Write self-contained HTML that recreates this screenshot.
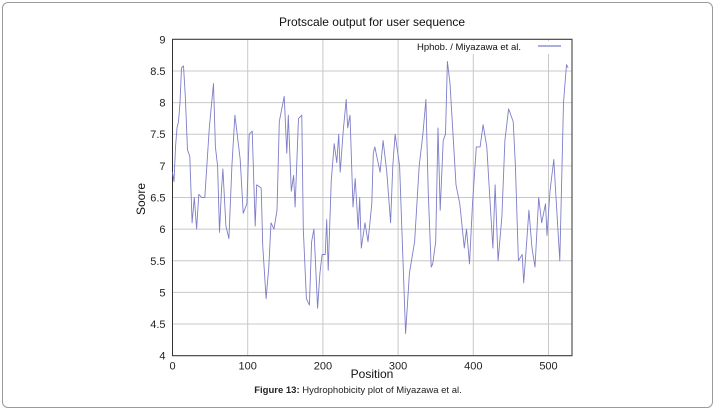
<!DOCTYPE html>
<html><head><meta charset="utf-8"><style>
html,body{margin:0;padding:0;background:#fff;}
body{width:716px;height:411px;overflow:hidden;position:relative;font-family:"Liberation Sans",sans-serif;}
#card{position:absolute;left:2px;top:2px;width:709px;height:404px;border:1px solid #9a9a9a;border-radius:6px;}
#cap{position:absolute;left:0;width:716px;top:385px;text-align:center;font-size:9.5px;color:#222;}
</style></head><body>
<div id="card"></div>
<svg id="chart" width="716" height="411" style="position:absolute;left:0;top:0"></svg>
<div id="cap"><b>Figure 13:</b> Hydrophobicity plot of Miyazawa et al.</div>
<script>
const positions=[0,2,4,6,8,10,12,14.6,17,20,23,26,29,32,35,39,43,49,54.5,57,60,62.5,65,67,71,75,79,83,86,90,94,99,102,106,110,112,118,120,124.5,128,131,135,139,142,148.5,152,154,158,161,163,167.5,172,174,178,182,185,188,190,193,196,199,203,205,207,211,215,218.5,221,223,227,231,233,236,240,243,247,249,251,256,260,265,267,269,276,280,285,290,293,296,302,310,315,322,328,333,337,340,344,346,350,353,356,360,363,365.5,369,373,377,382,388,391,395,399,404,409,413,418,422,426,429,433,438,442,447,453,456,460,465,467,471,474,478,482,487,491,496,498,502,504,507,510,515,520,524,526];
const scores=[6.9,6.75,7.3,7.6,7.7,8.0,8.55,8.58,8.1,7.25,7.15,6.1,6.5,6.0,6.55,6.5,6.5,7.6,8.3,7.3,7.0,5.95,6.6,6.95,6.05,5.85,7.0,7.8,7.5,7.1,6.25,6.4,7.5,7.55,6.05,6.7,6.65,5.75,4.9,5.4,6.1,6.0,6.3,7.7,8.1,7.2,7.8,6.6,6.85,6.35,7.75,7.8,6.0,4.9,4.8,5.8,6.0,5.5,4.75,5.3,5.6,5.6,6.15,5.35,6.75,7.35,7.05,7.5,6.9,7.55,8.05,7.6,7.8,6.35,6.8,6.0,6.5,5.7,6.1,5.8,6.4,7.2,7.3,6.9,7.4,6.9,6.1,7.0,7.5,7.0,4.35,5.3,5.8,7.0,7.5,8.05,6.6,5.4,5.45,5.8,7.6,6.3,7.4,7.5,8.65,8.3,7.5,6.7,6.4,5.7,6.0,5.45,6.4,7.3,7.3,7.65,7.3,6.5,5.7,6.7,5.5,6.2,7.4,7.9,7.7,7.0,5.5,5.6,5.15,5.8,6.3,5.7,5.4,6.5,6.1,6.4,5.9,6.6,6.8,7.1,6.5,5.5,8.0,8.6,8.55];
const xTicks=[0,100,200,300,400,500];
const yTicks=[4,4.5,5,5.5,6,6.5,7,7.5,8,8.5,9];
const yTickLabels=["4","4.5","5","5.5","6","6.5","7","7.5","8","8.5","9"];
const L=172.5,R=572,T=39.3,B=355.7,XMAX=(R-L)/0.752;
const sx=v=>L+(v/XMAX)*(R-L);
const sy=v=>B-(v-4)/5*(B-T);
const svg=document.getElementById('chart');
const NS='http://www.w3.org/2000/svg';
function mk(tag,attrs,txt){const e=document.createElementNS(NS,tag);for(const k in attrs)e.setAttribute(k,attrs[k]);if(txt!==undefined)e.textContent=txt;svg.appendChild(e);return e;}
yTicks.forEach((v,i)=>{
 const g=mk('line',{x1:L,x2:R,y1:sy(v),y2:sy(v),stroke:'#c8c8c8','stroke-width':1});
 
 
 const t=mk('text',{x:L-7,y:sy(v)+4,'text-anchor':'end','font-size':11,fill:'#222'},yTickLabels[i]);
 
 
});
xTicks.forEach(v=>{
 const g=mk('line',{x1:sx(v),x2:sx(v),y1:T,y2:B,stroke:'#c8c8c8','stroke-width':1});
 
 
 const t=mk('text',{x:sx(v),y:B+14,'text-anchor':'middle','font-size':11,fill:'#222'},String(v));
 
 
});
const lg=mk('rect',{x:405,y:41,width:166,height:13,fill:'#fff'});


const fr=mk('rect',{x:L,y:T,width:R-L,height:B-T,fill:'none',stroke:'#333','stroke-width':1});


const d=positions.map((p,i)=>(i?'L':'M')+sx(p).toFixed(1)+' '+sy(scores[i]).toFixed(1)).join(' ');
const line=mk('path',{d:d,fill:'none',stroke:'#7e7ec8','stroke-width':0.9,'stroke-linejoin':'round'});


const lt=mk('text',{x:521,y:50,'text-anchor':'end','font-size':9.5,fill:'#111'},'Hphob.  / Miyazawa et al.');


lt.setAttribute('xml:space','preserve');
const ll=mk('line',{x1:538,x2:561,y1:46,y2:46,stroke:'#7e7ec8','stroke-width':1.2});


const ti=mk('text',{x:372,y:26,'text-anchor':'middle','font-size':12,fill:'#111'},'Protscale output for user sequence');


const xt=mk('text',{x:372,y:378,'text-anchor':'middle','font-size':12,fill:'#111'},'Position');


const yt=mk('text',{x:0,y:0,'text-anchor':'middle','font-size':12,fill:'#111',transform:'translate(145,199) rotate(-90)'},'Soore');


</script>
</body></html>
